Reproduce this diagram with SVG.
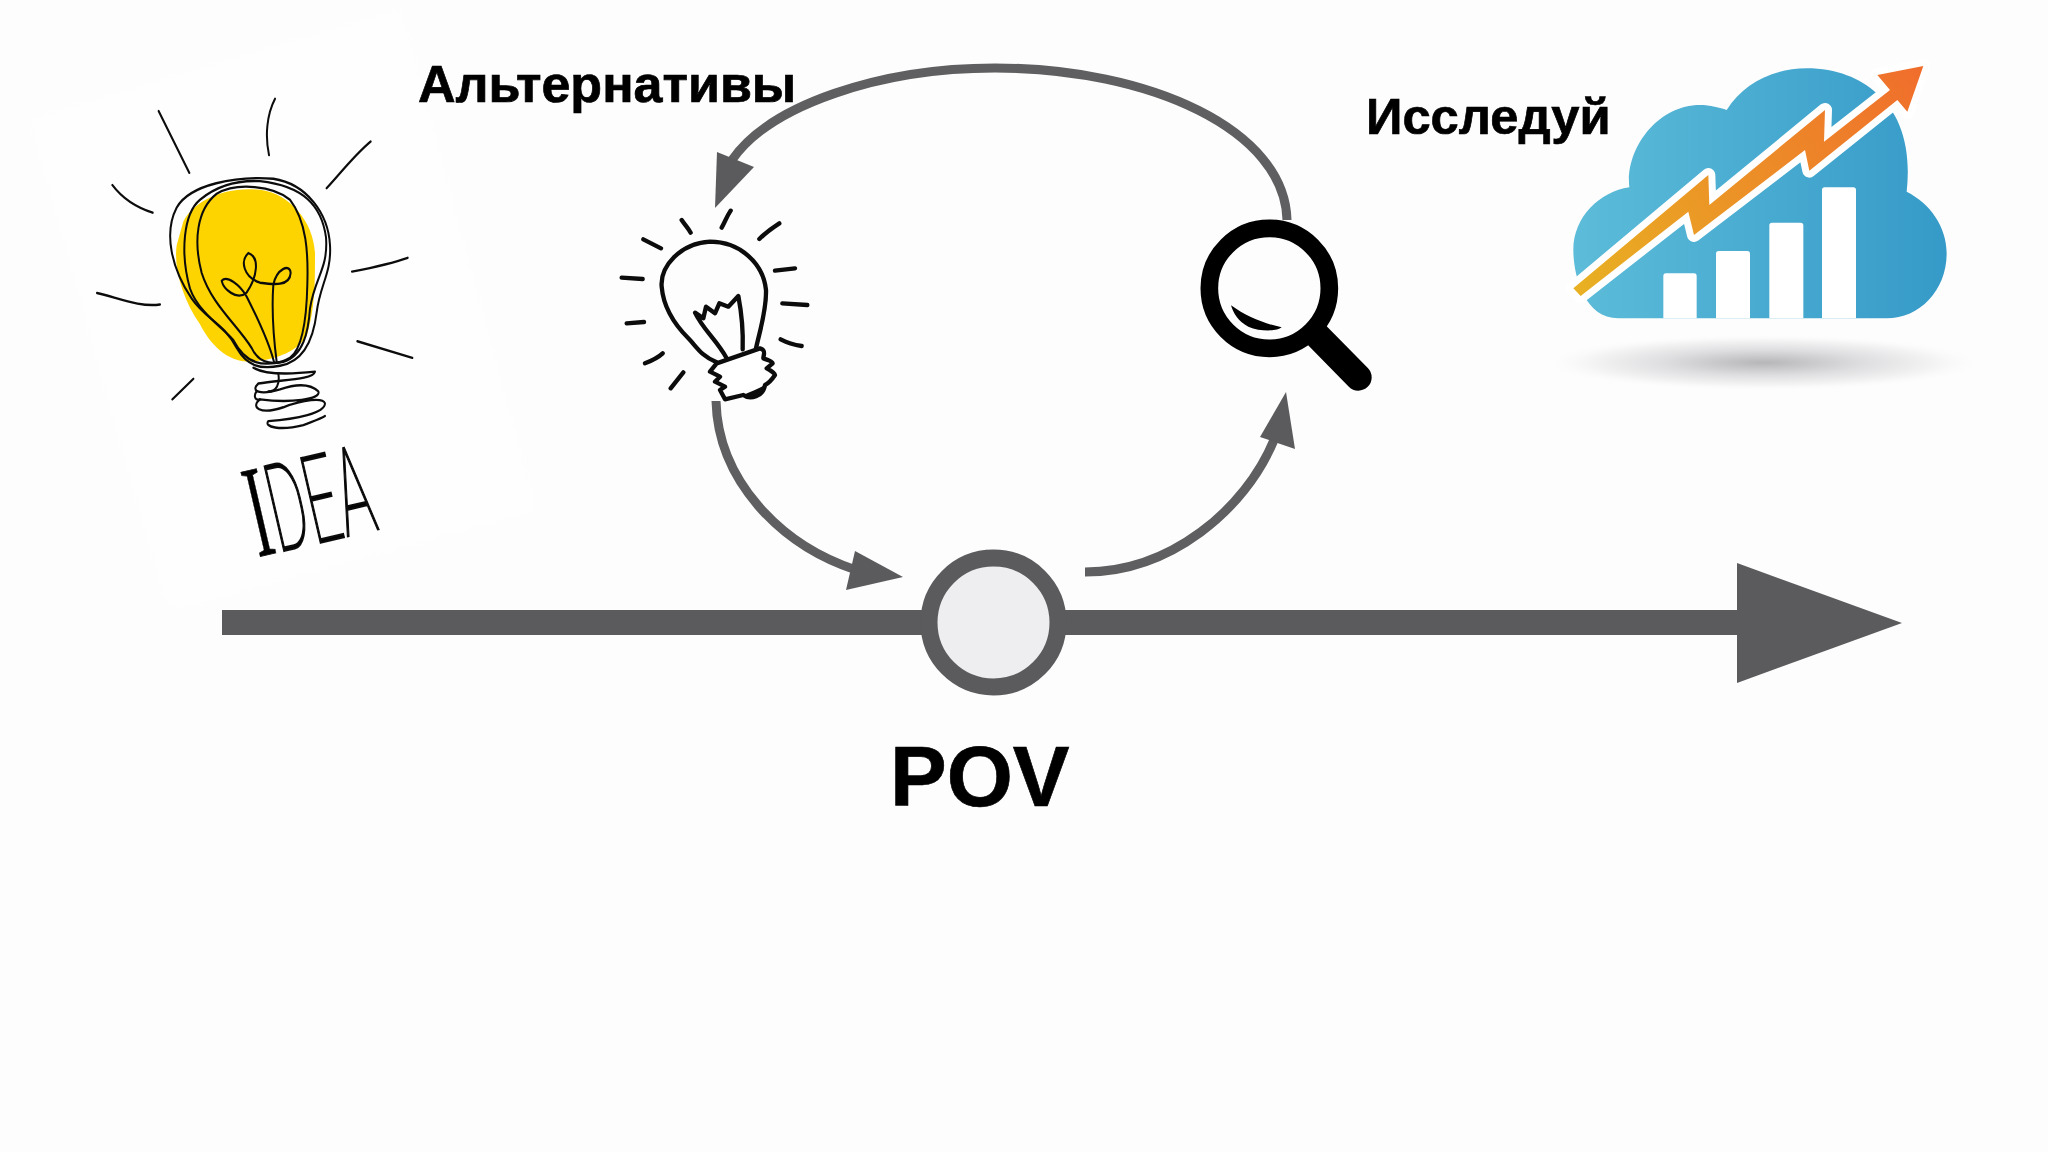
<svg xmlns="http://www.w3.org/2000/svg" width="2048" height="1152" viewBox="0 0 2048 1152">
<style>
text{font-family:"Liberation Sans",Arial,sans-serif;font-weight:700;fill:#000;stroke:#000;stroke-width:.7}
.g{fill:#5b5a5d}
.arc{fill:none;stroke:#5f5e60;stroke-width:9}
.ln{fill:none;stroke:#0c0c0c;stroke-linecap:round;stroke-linejoin:round}
.b{stroke-width:13}
</style>
<defs>
<linearGradient id="cloud" x1="0" x2="1" y1="0" y2="0"><stop offset="0" stop-color="#5cbcd9"/><stop offset="1" stop-color="#369ac8"/></linearGradient>
<linearGradient id="bolt" gradientUnits="userSpaceOnUse" x1="100" y1="750" x2="1150" y2="80"><stop offset="0" stop-color="#e8b122"/><stop offset="1" stop-color="#f06d2c"/></linearGradient>
<radialGradient id="shadow"><stop offset="0" stop-color="#b6b6b9"/><stop offset=".45" stop-color="#dedee0"/><stop offset=".8" stop-color="#f5f5f6"/><stop offset="1" stop-color="#fdfdfd" stop-opacity="0"/></radialGradient>
<filter id="soft" x="-10%" y="-10%" width="120%" height="120%"><feGaussianBlur stdDeviation="6"/></filter>
</defs>
<rect width="2048" height="1152" fill="#fdfdfd"/>
<polygon points="30,120 400,10 535,510 170,610" fill="#fefefe" filter="url(#soft)"/>

<g id="idea-bulb">
<g transform="translate(20 0) scale(.33333 .3954)">
<path fill="#fdd400" d="M490 560C520 510 610 470 720 480C810 490 880 560 885 640C885 720 885 780 860 850C830 890 770 910 690 915C620 915 570 870 540 820C490 760 460 680 470 620Z"/>
<g class="ln" style="stroke-width:6">
<path d="M760 452C650 445 510 465 470 525C430 590 455 680 515 755C560 810 610 815 650 880C680 925 720 935 780 925C850 915 880 860 890 790C900 720 935 690 930 620C925 540 860 465 760 452Z"/>
<path d="M540 505C490 540 480 640 510 730C535 790 610 830 640 860C680 925 730 925 790 915C850 900 865 840 870 780C885 700 925 680 918 600C905 520 850 470 720 458C650 455 590 470 540 505Z"/>
<path d="M590 490C530 530 520 610 545 690C575 770 650 820 695 880C720 925 770 925 810 905C850 880 860 800 862 720C865 640 860 560 810 505C760 470 650 460 590 490Z"/>
<path d="M770 915C760 850 755 780 760 720C770 680 810 665 812 690C810 725 760 720 720 715C670 700 660 660 685 640C720 650 712 700 680 740C650 762 610 730 605 710C620 695 660 720 680 750C710 800 745 860 762 915"/>
<path d="M700 930C740 950 830 945 885 940C880 960 790 960 715 970C690 990 720 1000 780 985C830 970 870 970 895 990C905 1010 810 1020 720 1010C690 1030 720 1050 790 1030C850 1010 910 1005 915 1020C915 1045 830 1060 745 1065C730 1080 780 1090 850 1075C880 1065 900 1060 915 1052"/>
<path d="M710 990C700 1000 705 1015 720 1010M775 945C780 970 770 990 745 990"/>
<path d="M416 281L508 437M765 250C740 290 735 345 747 392M1052 358C1000 395 960 440 920 476M277 468C310 505 350 525 398 538M1163 652C1110 668 1050 678 996 687M231 741C290 752 360 778 420 770M1012 863L1177 905M520 958L457 1010"/>
</g>
</g>
<text transform="translate(258 557) rotate(-13) scale(.47 1)" font-size="122" style="font-family:Roboto,sans-serif;font-weight:100;stroke:#0c0c0c;stroke-width:2.2"><tspan font-size="132" style="font-family:'Liberation Serif',serif;font-weight:400;stroke-width:.8">I</tspan>DEA</text>
</g>

<g id="bulb" transform="translate(600 190) scale(.33333)">
<g class="ln b">
<path d="M350 517C300 495 290 470 265 445C220 400 190 350 185 290C180 230 240 160 330 155C420 155 490 220 498 300C500 360 480 420 468 475"/>
<path d="M380 505C350 450 310 420 285 368L310 385L318 350L345 370L358 340L385 350L415 318C425 370 430 420 428 478"/>
<path fill="#fff" d="M350 520L480 475C500 480 490 495 490 505C505 510 518 515 518 520L500 535C510 540 525 550 525 555C515 570 505 580 495 585C490 620 450 630 430 615L375 628L360 600L375 590L345 575L360 560L330 545Z"/>
<path d="M130 148L183 175M245 90C255 105 265 115 272 128M365 113C375 95 380 80 392 62M478 147C495 130 515 115 538 100M525 242L585 235M547 340L622 345M542 448C565 460 585 465 605 468M135 520C155 512 172 505 188 490M212 595L250 547M65 263L128 267M80 400L132 396"/>
</g>
<path fill="#0c0c0c" d="M430 615C450 605 480 595 497 583C492 620 450 640 430 615Z"/>
</g>

<g id="magnifier" transform="translate(1170 200) scale(.33333)">
<circle cx="298" cy="265" r="180" fill="none" stroke="#000" stroke-width="53"/>
<path d="M440 405L565 532" stroke="#000" stroke-width="80" stroke-linecap="round"/>
<path d="M183 316C230 350 280 370 335 382C320 395 270 395 235 380C205 365 190 340 183 316Z" fill="#000"/>
</g>

<g id="cloud-chart" transform="translate(1540 40) scale(.33333)">
<ellipse cx="670" cy="968" rx="660" ry="85" fill="url(#shadow)"/>
<path fill="url(#cloud)" d="M235 835C130 835 100 700 100 630C100 530 180 455 268 442C255 330 350 195 480 195C510 195 540 203 560 210C610 130 700 85 800 85C890 85 960 115 1010 160C1080 220 1115 320 1100 455C1170 490 1220 560 1220 640C1220 750 1140 835 1040 835Z"/>
<path fill="#fff" d="M370 835V708Q370 700 378 700H462Q470 700 470 708V835ZM528 835V641Q528 633 536 633H622Q630 633 630 641V835ZM688 835V556Q688 548 696 548H782Q790 548 790 556V835ZM846 835V450Q846 442 854 442H940Q948 442 948 450V835Z"/>
<path fill="url(#bolt)" stroke="#fff" stroke-width="42" stroke-linejoin="round" d="M100 745L505 405L508 495L855 210L852 305L1050 150L1012 105L1150 78L1102 215L1072 180L808 392L795 330L462 585L445 515L122 768Z"/>
<path fill="url(#bolt)" d="M100 745L505 405L508 495L855 210L852 305L1050 150L1012 105L1150 78L1102 215L1072 180L808 392L795 330L462 585L445 515L122 768Z"/>
</g>

<g id="connectors">
<rect class="g" x="222" y="610" width="1530" height="25"/>
<polygon class="g" points="1737,563 1902,623 1737,683"/>
<path class="arc" d="M1287 220C1285 130 1150 68 995 68C880 68 770 105 732 160"/>
<polygon class="g" points="715,208 717,152 754,167"/>
<path class="arc" d="M716 401C718 480 780 545 856 570"/>
<polygon class="g" points="903,577 855,551 846,590"/>
<path class="arc" d="M1085 572C1170 572 1245 510 1274 440"/>
<polygon class="g" points="1286,392 1260,437 1295,449"/>
</g>

<g id="pov">
<circle cx="993.5" cy="622.5" r="64.5" fill="#eeedef" stroke="#5b5a5d" stroke-width="17"/>
<text x="890" y="806" font-size="85">POV</text>
</g>
<g id="labels">
<text x="418" y="102" font-size="52">Альтернативы</text>
<text x="1366" y="134" font-size="50.7">Исследуй</text>
</g>
</svg>
